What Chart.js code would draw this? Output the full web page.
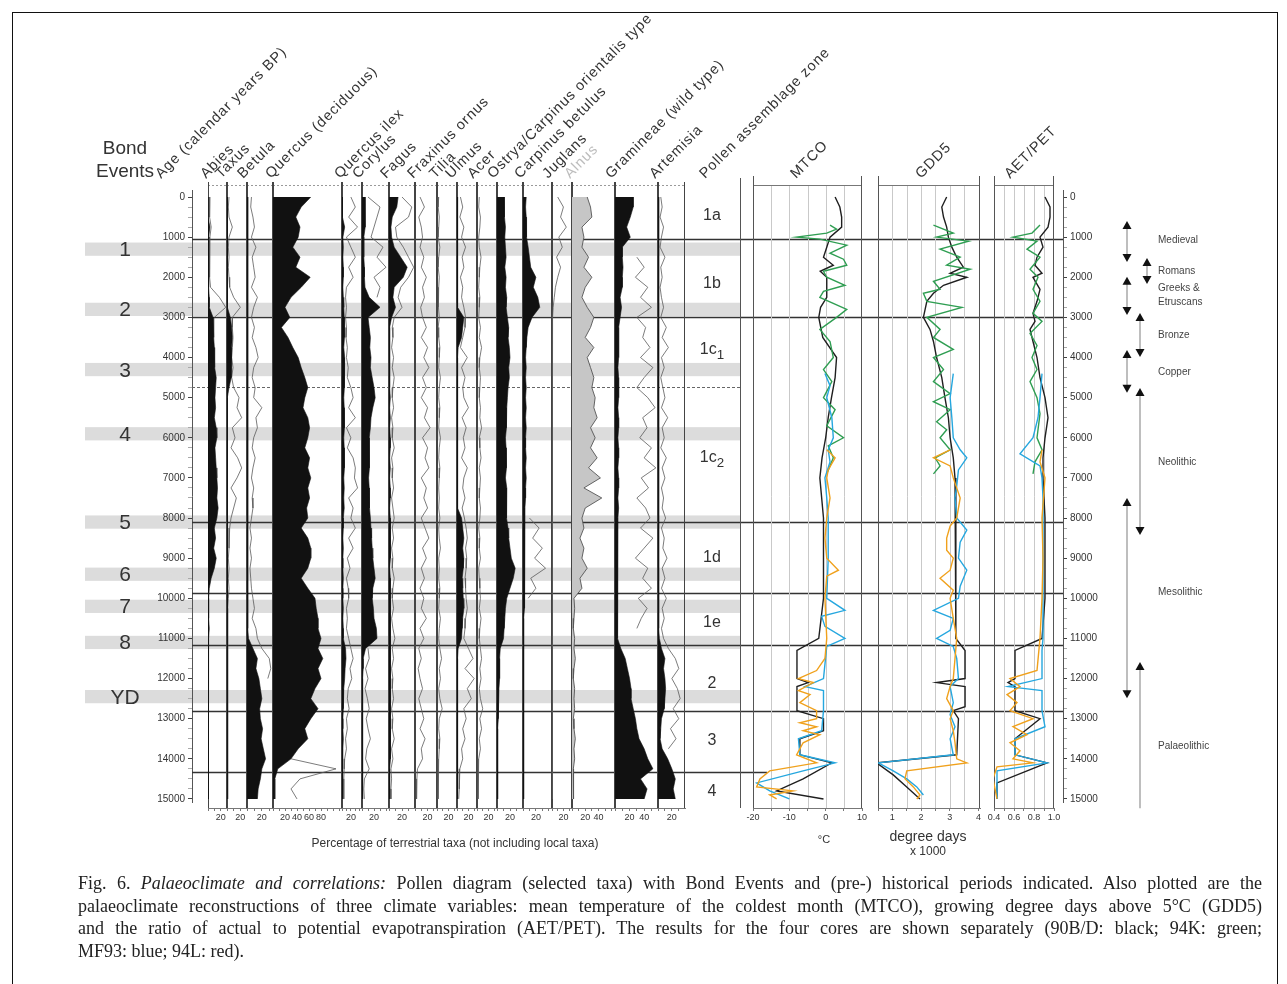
<!DOCTYPE html>
<html>
<head>
<meta charset="utf-8">
<title>Fig. 6 Palaeoclimate and correlations</title>
<script src="https://cdn.jsdelivr.net/npm/chart.js@4.4.1/dist/chart.umd.min.js"></script>
<style>
  body { margin: 0; background: #fff; width: 1287px; height: 984px; overflow: hidden; position: relative;
         font-family: "Liberation Sans", Arial, sans-serif; color: #333; }
  .abs { position: absolute; }
  .frame { position: absolute; left: 12px; top: 12px; width: 1264px; height: 990px; border: 1.5px solid #111; }
  .hdr { position: absolute; transform-origin: 0 100%; transform: rotate(-45deg); white-space: nowrap;
         font-size: 14.5px; letter-spacing: 0.9px; line-height: 15px; color: #333; }
  .lbl { position: absolute; transform: translate(-50%, -50%); white-space: nowrap; }
  .cap { position: absolute; left: 78px; width: 1184px; font-family: "Liberation Serif", "Times New Roman", serif;
         font-size: 18px; color: #222; white-space: nowrap; }
  .just { text-align: justify; text-align-last: justify; white-space: normal; }
</style>
</head>
<body>
<div class="frame"></div>
<script>
// ---------- data ----------
const N = null;

// sample ages (calendar years BP) of the pollen curves
const AGES = [0,250,500,750,1000,1250,1500,1750,2000,2250,
  2500,2750,3000,3250,3500,3750,4000,4250,4500,4750,
  5000,5250,5500,5750,6000,6250,6500,6750,7000,7250,
  7500,7750,8000,8250,8500,8750,9000,9250,9500,9750,
  10000,10250,10500,10750,11000,11250,11500,11750,12000,12250,
  12500,12750,13000,13250,13500,13750,14000,14250,14500,14750,
  15000];

const AGE_LABELS = [0,1000,2000,3000,4000,5000,6000,7000,8000,9000,10000,11000,12000,13000,14000,15000];

// pollen percentages (black silhouettes) and exaggerated curves (thin lines)
const ABIES = [0,0,0,3,1,1,1,1,1,1,
  2,2,8,9,9,10,10,11,13,12,
  11,12,10,13,14,11,12,13,14,15,
  14,16,14,10,12,9,13,10,5,2,
  1,1,1,2,1,1,0.5,1,0.5,0.5,
  0.5,1,0.5,0.5,0.5,0.5,1,0.5,0.5,0.5,
  1];
const ABIES_X = [3,2,3,5,3,2,3,2,3,4,
  18,28,10,N,N,N,N,N,N,N,
  N,N,N,N,N,N,N,N,N,N,
  N,N,N,N,N,N,N,N,N,N,
  N,N,N,N,N,N,N,N,N,N,
  N,N,N,N,N,N,N,N,N,N,
  N];
const TAXUS = [0.5,0.5,0.5,0.5,0.5,0.5,0.5,0.5,0.5,0.5,
  0.5,1,5,7,8,7,6,7,6,3,
  0.5,0.5,0.5,0.5,0.5,0.5,0.5,0.5,0.5,0.5,
  0.5,0.5,0.5,0.5,0.5,0.5,0.5,0.5,0.5,0.5,
  0.5,0.5,0.5,0.5,0.5,0.5,0.5,0.5,0.5,0.5,
  0.5,0.5,0.5,0.5,0.5,0.5,0.5,0.5,0.5,0.5,
  0.5];
const TAXUS_X = [3,2,3,8,3,2,3,2,3,4,
  10,20,8,8,9,8,7,9,7,10,
  18,15,22,8,12,6,16,22,15,6,
  14,10,6,4,3,3,2,3,2,3,
  2,1,1,1,1,1,1,1,1,1,
  1,1,1,1,1,1,1,1,1,1,
  1];
const BETULA = [1,1,1,1,1,1,1,1,1,1,
  1,1,1,1,1,1,1,1,1,1,
  1,1,1,1,1,1,1,1,1,1,
  1,1,1,1,1,1,1,1,1,1,
  1,1,1,1,2,8,14,12,16,18,
  20,17,18,21,19,22,25,20,18,15,
  14];
const BETULA_X = [6,5,8,10,6,12,7,9,11,6,
  14,9,6,10,7,12,15,9,7,11,
  9,20,12,14,9,7,11,8,6,9,
  7,8,6,4,6,4,6,4,5,6,
  8,10,7,12,14,20,30,32,28,N,
  N,N,N,N,N,N,N,N,N,N,
  N];
const QUERCUS = [63,47,38,45,42,33,45,38,62,47,
  30,20,28,14,25,33,42,47,53,58,
  53,50,58,61,58,53,61,58,63,58,
  61,56,58,47,58,63,63,58,47,58,
  70,72,75,75,80,75,83,75,80,70,
  63,75,63,53,58,42,30,8,3,3,
  3];
const QUERCUS_X = [N,N,N,N,N,N,N,N,N,N,
  N,N,N,N,N,N,N,N,N,N,
  N,N,N,N,N,N,N,N,N,N,
  N,N,N,N,N,N,N,N,N,N,
  N,N,N,N,N,N,N,N,N,N,
  N,N,N,N,N,N,30,105,45,30,
  40];
const QILEX = [1,1,1,6,2,3,2,3,3,2,
  3,4,5,6,5,4,6,5,6,5,
  4,5,6,5,4,5,6,5,4,5,
  4,5,3,3,2,3,2,2,3,2,
  2,3,2,3,3,8,9,7,6,4,
  3,3,2,2,3,2,2,1,1,1,
  1];
const QILEX_X = [20,30,15,35,10,20,30,15,25,10,
  8,10,8,10,9,12,10,14,12,20,
  25,15,30,10,20,12,25,30,28,35,
  15,25,20,30,15,25,12,18,10,14,
  15,10,12,10,15,20,25,18,22,14,
  12,16,10,12,8,10,6,5,4,4,
  4];
const CORYLUS = [5,5,5,6,3,3,3,4,4,5,
  12,30,10,12,14,13,15,14,17,20,
  22,18,15,14,12,12,13,12,11,12,
  12,13,14,15,16,17,18,20,22,18,
  17,19,20,24,25,6,2,2,1,1,
  1,1,1,1,1,1,1,1,1,1,
  1];
const CORYLUS_X = [10,30,25,20,15,35,25,40,20,30,
  25,N,N,N,N,N,N,N,N,N,
  N,N,N,N,N,N,N,N,N,N,
  N,N,N,N,N,N,N,N,N,N,
  N,N,N,N,N,10,12,6,10,5,
  9,12,7,10,14,8,6,12,4,3,
  4];
const FAGUS = [14,12,5,3,4,8,18,28,22,8,
  6,10,4,1,1,1,1,1,1,1,
  2,1,2,1,2,2,1,2,1,2,
  2,1,2,2,3,2,2,1,2,2,
  2,3,2,2,3,2,2,3,2,2,
  3,2,2,2,3,2,2,1,1,1,
  1];
const FAGUS_X = [20,35,30,10,12,22,30,38,30,18,
  14,20,8,5,6,4,7,5,8,6,
  5,7,4,6,5,8,4,6,5,7,
  4,6,8,5,7,4,6,5,8,6,
  5,7,4,6,9,5,7,4,6,5,
  7,4,6,5,8,4,6,3,4,3,
  3];
const FRAXINUS = [8,15,6,10,12,8,14,10,18,12,
  15,9,12,18,10,20,14,22,12,18,
  10,20,15,24,12,20,16,22,10,18,
  14,20,10,16,22,12,18,10,15,8,
  14,10,18,8,14,6,10,5,8,12,
  6,10,14,8,16,10,12,4,3,3,
  2];
const TILIA = [3,2,4,3,2,5,3,2,4,3,
  2,3,4,2,3,5,4,3,6,4,
  3,5,4,3,6,4,3,5,4,3,
  4,3,5,3,4,6,3,4,3,5,
  4,3,6,4,3,5,8,4,6,3,
  5,9,4,3,5,4,3,2,2,2,
  2];
const ULMUS = [1,1,1,1,1,1,1,1,1,1,
  1,1,12,10,8,2,1,1,1,1,
  1,1,1,1,1,1,1,1,1,1,
  1,1,8,10,12,10,12,11,9,10,
  11,12,10,9,8,2,1,1,1,1,
  1,1,1,1,1,1,1,1,1,1,
  1];
const ULMUS_X = [6,10,5,12,8,15,9,12,6,10,
  8,12,15,14,10,6,18,8,14,10,
  12,20,9,16,11,14,8,18,12,10,
  14,9,13,16,18,15,17,16,14,15,
  16,18,15,14,12,20,28,14,30,18,
  25,12,16,10,14,8,10,5,4,4,
  3];
const ACER = [4,3,6,5,3,4,7,5,4,3,
  5,4,3,6,4,8,5,4,6,5,
  4,6,5,8,4,5,7,4,6,5,
  4,6,5,3,5,4,6,3,4,5,
  6,4,7,5,4,6,8,5,7,4,
  6,10,5,8,4,6,3,2,2,2,
  2];
const OSTRYA = [11,12,11,13,12,13,14,12,14,13,
  15,14,16,18,17,19,20,18,19,17,
  16,15,14,15,13,14,15,14,13,15,
  14,15,15,17,18,20,22,28,25,20,
  15,13,12,11,10,5,4,4,4,3,
  2,2,2,1,1,1,1,1,1,1,
  1];
const CARPINUS = [5,4,5,6,5,8,10,12,20,16,
  23,26,14,8,6,5,4,5,4,5,
  4,5,4,5,4,4,5,4,5,4,
  4,3,3,2,3,2,3,2,2,3,
  2,2,1,1,1,1,1,1,1,1,
  1,1,1,1,1,1,1,1,1,1,
  1];
const CARPINUS_X = [N,N,N,N,N,N,N,N,N,N,
  N,N,N,N,N,N,N,N,N,N,
  N,N,N,N,N,N,N,N,N,N,
  N,N,10,25,15,30,18,35,12,20,
  8,N,N,N,N,N,N,N,N,N,
  N,N,N,N,N,N,N,N,N,N,
  N];
const JUGLANS = [10,20,15,25,12,18,8,15,10,6,
  4,2,1,0,0,0,0,0,0,0,
  0,0,0,0,0,0,0,0,0,0,
  0,0,0,0,0,0,0,0,0,0,
  0,0,0,0,0,0,0,0,0,0,
  0,0,0,0,0,0,0,0,0,0,
  0];
const ALNUS = [23,28,30,15,18,15,25,18,30,20,
  15,23,33,28,20,33,23,28,33,30,
  35,33,38,28,35,28,38,25,43,18,
  45,20,15,18,12,18,15,23,12,15,
  3,4,3,2,4,3,5,3,2,4,
  3,4,2,3,5,3,4,2,3,2,
  2];
const GRAMINEAE = [25,25,21,16,21,10,10,11,10,10,
  7,9,7,5,5,5,5,4,5,5,
  5,4,5,5,4,5,5,4,5,5,
  4,5,4,3,4,3,4,3,4,3,
  3,4,3,4,4,8,14,17,20,22,
  22,25,28,30,33,40,45,52,35,44,
  40];
const GRAMINEAE_X = [N,N,N,N,N,N,30,40,28,45,
  35,50,30,42,38,48,35,52,40,30,
  45,55,38,44,34,50,40,56,36,46,
  30,42,48,35,52,40,28,45,38,50,
  32,44,36,30,N,N,N,N,N,N,
  N,N,N,N,N,N,N,N,N,N,
  N];
const ARTEMISIA = [1,1,1,1,1,1,1,1,1,1,
  1,1,1,1,1,1,1,1,1,1,
  1,1,1,1,1,1,1,1,1,1,
  1,1,1,1,1,1,1,1,1,1,
  1,1,1,1,2,5,10,8,10,11,
  10,9,5,4,3,6,14,20,25,22,
  25];
const ARTEMISIA_X = [4,6,3,8,5,3,10,4,6,3,
  5,8,4,12,6,15,5,9,4,7,
  10,5,14,6,9,4,12,6,10,5,
  8,6,11,5,9,7,13,6,10,5,
  12,6,9,5,8,15,25,30,20,28,
  32,22,30,18,26,15,N,N,N,N,
  N];

// climate reconstructions, one age list per core
// MTCO (deg C)
const MTCO_AGE_90BD = [0,250,500,750,1000,1250,1500,1700,1850,2000,2250,2500,2750,3000,3500,4000,4500,5000,5500,6000,6500,7000,8000,9000,10000,11000,11300,12000,12100,12200,12800,13000,13300,13500,13900,14100,14500,14800,15000];
const MTCO_90BD = [2.6,3.9,4.4,4.4,1.2,0.3,-0.6,2.1,-1.5,0.3,0.3,0.3,-1.4,-1.9,-0.8,3.0,2.6,1.6,0.7,0,-1.0,-1.6,-0.6,-0.6,-0.6,-1.9,-7.9,-7.9,-4.8,-7.9,-7.9,-0.6,-0.6,-7.1,-7.1,1.7,-6.2,-13.5,-0.6];
const MTCO_AGE_94K = [700,800,900,1000,1050,1200,1400,1550,1700,1850,2000,2200,2350,2500,2800,3000,3300,3600,4000,4300,4600,5000,5300,5700,6000,6200,6500,6900];
const MTCO_94K = [1.2,3.0,0.3,-8.0,-1.6,5.8,1.2,4.9,5.8,-0.6,0.3,5.3,-0.6,-1.6,5.8,3.0,-1.6,1.2,2.1,-0.6,1.7,-0.6,2.6,0.3,4.9,0.7,2.1,0.3];
const MTCO_AGE_MF93 = [4400,4700,5000,5500,6000,6300,6600,7000,7500,8000,9000,10000,10300,10450,10700,11000,11200,12000,12200,12300,12800,13300,13500,13900,14100,14300,14600,14800,15000];
const MTCO_MF93 = [-0.2,1.2,0.3,1.7,2.1,0.7,1.2,-0.2,0.3,0.7,0.7,0.3,5.3,-1.1,-0.2,5.3,0.3,-0.6,-5.7,-0.6,-0.6,-1.1,-7.5,-7.1,2.6,-6.2,-19.0,-15.4,-10.0];
const MTCO_AGE_94L = [6300,6500,6800,7000,7500,8000,8500,9000,9300,9450,10000,11000,11500,11800,12000,12100,12300,12400,12600,12800,13000,13100,13200,13300,13400,13600,13900,14100,14300,14500,14700,14800,14900,15000];
const MTCO_94L = [0.3,2.6,0.7,0.3,1.2,0.3,-0.2,0.3,3.5,0.3,-0.2,0.3,-0.2,-2.5,-7.5,-3.4,-7.5,-4.3,-7.1,-2.5,-2.5,-7.1,-2.5,-6.2,-1.6,-6.2,-8.0,-2.5,-15.4,-18.1,-19.0,-9.0,-15.4,-13.5];

// GDD5 (degree days x 1000)
const GDD_AGE_90BD = [0,250,500,750,1000,1250,1500,1750,1900,2000,2200,2400,2600,2800,3000,3300,3600,4000,4500,5000,5500,6000,6500,7000,8000,9000,10000,11000,11300,12000,12100,12200,12700,12800,13000,13900,14100,14400,14700,15000];
const GDD_90BD = [2.89,2.72,2.78,2.89,2.95,3.07,3.24,3.47,3.01,3.59,2.78,2.43,2.20,2.14,2.08,2.31,2.43,2.54,2.72,2.83,2.95,3.01,3.12,3.18,3.21,3.21,3.21,3.21,3.53,3.53,2.54,3.53,3.53,3.12,3.30,3.24,0.45,1.03,1.50,1.96];
const GDD_AGE_94K = [700,900,1000,1100,1300,1500,1700,1800,2100,2300,2400,2600,2750,3000,3300,3500,3800,4000,4300,4600,4900,5100,5300,5600,5800,6000,6300,6500,6700,6900];
const GDD_94K = [2.43,3.12,2.54,3.65,2.66,3.36,2.89,3.71,2.43,2.66,2.08,2.20,3.42,2.20,2.66,2.43,3.12,2.43,2.78,2.43,3.01,2.43,3.01,2.54,2.89,2.66,3.01,2.49,2.66,2.43];
const GDD_AGE_MF93 = [4400,5000,5500,6000,6300,6500,6800,7200,7500,8000,8300,8600,9000,9300,9700,10000,10300,10500,10800,11000,11200,11500,12000,12200,12600,12900,13200,13500,13900,14100,14300,14500,14700,14900];
const GDD_MF93 = [3.12,3.01,3.07,3.12,3.36,3.59,3.30,3.24,3.18,3.24,3.59,3.36,3.30,3.59,3.36,3.30,2.43,3.12,3.01,2.54,3.12,3.24,3.30,3.01,3.12,3.01,3.18,3.01,3.12,0.51,1.03,1.50,1.85,2.08];
const GDD_AGE_94L = [6300,6500,6700,7000,7500,8000,8200,8500,8800,9000,9300,9500,9800,10000,10500,11000,11500,12000,12200,12500,12800,13000,13300,13600,14000,14100,14300,14500,14700,14900,15000];
const GDD_94L = [3.01,2.43,3.01,3.12,3.36,3.24,3.01,2.89,2.89,3.12,3.01,2.66,3.12,3.01,3.12,3.24,3.18,3.12,3.01,2.89,3.12,3.01,3.12,3.18,3.24,3.59,1.50,1.44,1.73,1.96,1.85];

// AET/PET (ratio)
const AET_AGE_90BD = [0,250,500,750,1000,1250,1500,1700,1900,2000,2300,2600,2900,3100,3300,3600,4000,4500,5000,5500,6000,6500,7000,8000,9000,10000,11000,11300,12000,12100,12200,12800,13000,13500,13900,14100,14600,15000];
const AET_90BD = [0.91,0.96,0.96,0.94,0.86,0.89,0.83,0.81,0.88,0.79,0.86,0.83,0.79,0.81,0.76,0.79,0.83,0.86,0.91,0.94,0.91,0.89,0.89,0.91,0.91,0.91,0.88,0.61,0.61,0.54,0.61,0.61,0.86,0.61,0.61,0.93,0.43,0.43];
const AET_AGE_94K = [700,900,1000,1100,1300,1500,1800,2000,2300,2600,2900,3100,3400,3700,4000,4300,4600,5000,5400,5800,6000,6300,6600,6900];
const AET_94K = [0.86,0.78,0.59,0.83,0.73,0.86,0.76,0.84,0.79,0.86,0.79,0.88,0.76,0.83,0.78,0.83,0.76,0.83,0.86,0.84,0.83,0.88,0.81,0.79];
const AET_AGE_MF93 = [4400,5000,5500,6000,6400,6700,7000,7500,8000,9000,10000,11000,11300,12000,12200,12300,12800,13200,13500,13900,14100,14300,14600,15000];
const AET_MF93 = [0.88,0.86,0.84,0.79,0.66,0.86,0.88,0.89,0.89,0.89,0.89,0.89,0.88,0.88,0.54,0.88,0.88,0.91,0.61,0.61,0.93,0.43,0.43,0.43];
const AET_AGE_94L = [6300,6600,7000,8000,9000,10000,11000,11800,12000,12200,12400,12600,12800,13000,13200,13400,13600,13800,14000,14100,14200,14500,15000];
const AET_94L = [0.88,0.86,0.91,0.88,0.89,0.88,0.86,0.83,0.56,0.66,0.53,0.63,0.56,0.79,0.59,0.73,0.56,0.66,0.59,0.79,0.43,0.39,0.43];

// Bond events, pollen zones, historical periods
const BOND_NAMES = ['1','2','3','4','5','6','7','8','YD'];
const BOND_AGES = [1300,2800,4300,5900,8100,9400,10200,11100,12450];
const ZONE_BOUNDS = [1050,3000,8100,9870,11160,12800,14330];
const ZONE_SUB_BOUND = 4740;
const ZONE_NAMES = ['1a','1b','1c<sub>1</sub>','1c<sub>2</sub>','1d','1e','2','3','4'];
const ZONE_LABEL_AGES = [450,2143,3838,6529,8971,10590,12110,13531,14802];
const PERIOD_NAMES = ['Medieval','Romans','Greeks &amp;<br>Etruscans','Bronze','Copper','Neolithic','Mesolithic','Palaeolithic'];
const PERIOD_FROM = [600,1520,1990,2890,3810,4760,7500,11590];
const PERIOD_TO = [1620,2170,2940,3990,4880,8420,12490,15230];
const PERIOD_LABEL_AGES = [1071,1844,2442,3439,4361,6604,9843,13680];

// ---------- layout ----------
const FONT = '"Liberation Sans", Arial, sans-serif';
const KY = 40.13;          // pixels per 1000 years
const Y0 = 197;            // pixel row of age 0
const ageAt = px => (px - Y0) / KY * 1000;
const yOf = age => Y0 + age * KY / 1000;
const PANEL_TOP = 176, PANEL_BOTTOM = 808, AXIS_H = 24, SIDE = 14;
const Y_MIN = ageAt(PANEL_TOP), Y_MAX = ageAt(PANEL_BOTTOM);
const CORE_COLORS = ['#1f1f1f', '#2f9e52', '#25a7df', '#f0a11c'];

const POLLEN = [
  { left: 208, right: 227, max: 30, labels: [20], fill: ABIES, line: ABIES_X },
  { left: 227, right: 247, max: 30, labels: [20], fill: TAXUS, line: TAXUS_X },
  { left: 247, right: 273, max: 35, labels: [20], fill: BETULA, line: BETULA_X },
  { left: 273, right: 342, max: 115, labels: [20, 40, 60, 80], fill: QUERCUS, line: QUERCUS_X },
  { left: 342, right: 362, max: 45, labels: [20], fill: QILEX, line: QILEX_X },
  { left: 362, right: 389, max: 45, labels: [20], fill: CORYLUS, line: CORYLUS_X },
  { left: 389, right: 415, max: 40, labels: [20], fill: FAGUS, line: FAGUS_X },
  { left: 415, right: 437, max: 35, labels: [20], fill: null, line: FRAXINUS },
  { left: 437, right: 457, max: 35, labels: [20], fill: null, line: TILIA },
  { left: 457, right: 477, max: 35, labels: [20], fill: ULMUS, line: ULMUS_X },
  { left: 477, right: 497, max: 35, labels: [20], fill: null, line: ACER },
  { left: 497, right: 523, max: 40, labels: [20], fill: OSTRYA, line: null },
  { left: 523, right: 552, max: 45, labels: [20], fill: CARPINUS, line: CARPINUS_X },
  { left: 552, right: 572, max: 35, labels: [20], fill: null, line: JUGLANS },
  { left: 572, right: 615, max: 65, labels: [20, 40], fill: ALNUS, line: null, grey: true },
  { left: 615, right: 658, max: 59, labels: [20, 40], fill: GRAMINEAE, line: GRAMINEAE_X },
  { left: 658, right: 685, max: 39, labels: [20], fill: ARTEMISIA, line: ARTEMISIA_X }
];

const HEADER_TEXT = ['Age (calendar years BP)','Abies','Taxus','Betula','Quercus (deciduous)','Quercus ilex','Corylus','Fagus',
  'Fraxinus ornus','Tilia','Ulmus','Acer','Ostrya/Carpinus orientalis type','Carpinus betulus','Juglans','Alnus',
  'Gramineae (wild type)','Artemisia','Pollen assemblage zone','MTCO','GDD5','AET/PET'];
const HEADER_X = [163,208,223,245,273,342,360,388,415,437,453,475,495,522,550,572,613,657,707,798,923,1012];

// ---------- helpers ----------
function addCanvas(left, top, w, h) {
  const d = document.createElement('div');
  d.className = 'abs';
  d.style.cssText = `left:${left}px;top:${top}px;width:${w}px;height:${h}px`;
  const c = document.createElement('canvas');
  c.width = w; c.height = h;
  c.style.width = w + 'px'; c.style.height = h + 'px';
  d.appendChild(c);
  document.body.appendChild(d);
  return c;
}

function addText(html, x, y, css, centered = true) {
  const d = document.createElement('div');
  d.className = centered ? 'lbl' : 'abs';
  d.innerHTML = html;
  d.style.cssText += `left:${x}px;top:${y}px;` + (css || '');
  document.body.appendChild(d);
  return d;
}

const pts = (ages, vals) => ages.map((a, i) => ({ x: vals[i], y: a }));

// panel frame: side lines, header line, optional grid
const framePlugin = {
  id: 'frame',
  beforeDatasetsDraw(chart, args, o) {
    const { ctx, chartArea: a, scales: { x, y } } = chart;
    const top = y.getPixelForValue(o.from);
    const head = Math.round(y.getPixelForValue(o.head)) + 0.5;
    ctx.save();
    ctx.lineWidth = 1;
    if (o.grid) {
      ctx.strokeStyle = o.gridColor;
      x.ticks.forEach(t => {
        const px = Math.round(x.getPixelForValue(t.value)) + 0.5;
        if (px > a.left + 2 && px < a.right - 2) {
          ctx.beginPath(); ctx.moveTo(px, head); ctx.lineTo(px, a.bottom); ctx.stroke();
        }
      });
    }
    ctx.strokeStyle = o.headColor;
    ctx.setLineDash(o.headDash || []);
    ctx.beginPath(); ctx.moveTo(a.left, head); ctx.lineTo(a.right, head); ctx.stroke();
    ctx.setLineDash([]);
    ctx.strokeStyle = o.color;
    const l = Math.round(a.left) + 0.5, r = Math.round(a.right) - 0.5;
    ctx.beginPath();
    ctx.moveTo(l, top); ctx.lineTo(l, a.bottom);
    ctx.moveTo(r, top); ctx.lineTo(r, a.bottom);
    ctx.stroke();
    ctx.restore();
  }
};

function panelChart(left, right, xMin, xMax, step, labels, fmt, datasets, frame) {
  const w = right - left;
  const c = addCanvas(left - SIDE, PANEL_TOP, w + 2 * SIDE, PANEL_BOTTOM - PANEL_TOP + AXIS_H);
  return new Chart(c, {
    type: 'line',
    data: { datasets },
    options: {
      animation: false, responsive: false, indexAxis: 'y', devicePixelRatio: 1,
      layout: { padding: { left: SIDE, right: SIDE, top: 0, bottom: 0 } },
      elements: { point: { radius: 0 }, line: { tension: 0 } },
      plugins: { legend: { display: false }, tooltip: { enabled: false }, frame },
      scales: {
        y: { type: 'linear', reverse: true, min: Y_MIN, max: Y_MAX, display: false },
        x: {
          type: 'linear', min: xMin, max: xMax, position: 'bottom',
          afterBuildTicks: s => {
            const t = [];
            for (let i = 0; xMin + i * step <= xMax + 1e-9; i++) t.push({ value: +(xMin + i * step).toFixed(3) });
            s.ticks = t;
          },
          afterFit: s => { s.height = AXIS_H; },
          ticks: {
            autoSkip: false, maxRotation: 0, padding: 1, color: '#333',
            font: { size: 9, family: FONT },
            callback: v => labels.includes(+(+v).toFixed(3)) ? fmt(v) : ''
          },
          grid: { drawOnChartArea: false, tickLength: 3, color: '#777' },
          border: { color: '#777' }
        }
      }
    },
    plugins: [framePlugin]
  });
}

// ---------- base chart: age axes, Bond bands, zone lines, periods ----------
const BASE_TOP = 190, BASE_BOTTOM = 802;
const basePlugin = {
  id: 'base',
  beforeDraw(chart) {
    const { ctx, scales: { y } } = chart;
    ctx.save();
    ctx.fillStyle = '#dcdcdc';
    BOND_AGES.forEach(a => {
      const y1 = y.getPixelForValue(a - 165), y2 = y.getPixelForValue(a + 165);
      ctx.fillRect(85, y1, 740 - 85, y2 - y1);
    });
    ctx.restore();
  },
  afterDraw(chart) {
    const { ctx, scales: { y } } = chart;
    ctx.save();
    // zone boundaries
    ctx.strokeStyle = '#333'; ctx.lineWidth = 1.3;
    ZONE_BOUNDS.forEach((a, i) => {
      const py = Math.round(y.getPixelForValue(a)) + 0.5;
      ctx.beginPath(); ctx.moveTo(192, py); ctx.lineTo(i === ZONE_BOUNDS.length - 1 ? 767 : 1063, py); ctx.stroke();
    });
    ctx.strokeStyle = '#666'; ctx.lineWidth = 1; ctx.setLineDash([3, 2]);
    const sy = Math.round(y.getPixelForValue(ZONE_SUB_BOUND)) + 0.5;
    ctx.beginPath(); ctx.moveTo(192, sy); ctx.lineTo(740, sy); ctx.stroke();
    ctx.setLineDash([]);
    // zone column edge
    ctx.strokeStyle = '#555';
    ctx.beginPath(); ctx.moveTo(740.5, 178); ctx.lineTo(740.5, 808); ctx.stroke();
    // historical periods
    const cols = [1127, 1147, 1127, 1140, 1127, 1140, 1127, 1140];
    PERIOD_FROM.forEach((a, i) => {
      const x = cols[i], y1 = y.getPixelForValue(a), y2 = y.getPixelForValue(PERIOD_TO[i]);
      const open = i === PERIOD_FROM.length - 1;
      ctx.strokeStyle = '#a8a8a8'; ctx.lineWidth = 1.5;
      ctx.beginPath(); ctx.moveTo(x, y1 + 4); ctx.lineTo(x, open ? y2 : y2 - 4); ctx.stroke();
      ctx.fillStyle = '#111';
      ctx.beginPath(); ctx.moveTo(x, y1); ctx.lineTo(x - 4.5, y1 + 8); ctx.lineTo(x + 4.5, y1 + 8); ctx.closePath(); ctx.fill();
      if (!open) {
        ctx.beginPath(); ctx.moveTo(x, y2); ctx.lineTo(x - 4.5, y2 - 8); ctx.lineTo(x + 4.5, y2 - 8); ctx.closePath(); ctx.fill();
      }
    });
    ctx.restore();
  }
};

const minorTicks = [];
for (let v = 0; v <= 15000; v += 250) minorTicks.push({ value: v });
const ageAxis = (pos, width) => ({
  type: 'linear', position: pos, reverse: true, min: ageAt(BASE_TOP), max: ageAt(BASE_BOTTOM),
  afterBuildTicks: s => { s.ticks = minorTicks.map(t => ({ value: t.value })); },
  afterFit: s => { s.width = width; },
  ticks: {
    autoSkip: false, padding: 3, color: '#333', font: { size: 10, family: FONT },
    callback: v => AGE_LABELS.includes(v) ? String(v) : ''
  },
  grid: {
    drawOnChartArea: false, tickLength: 4,
    tickColor: c => (c.tick && AGE_LABELS.includes(c.tick.value)) ? '#444' : '#aaa'
  },
  border: { color: '#555' }
});

const baseCanvas = addCanvas(0, 0, 1287, 984);
new Chart(baseCanvas, {
  type: 'scatter',
  data: { datasets: [{ data: [] }] },
  options: {
    animation: false, responsive: false, devicePixelRatio: 1,
    layout: { padding: { left: 150, right: 164, top: BASE_TOP, bottom: 984 - BASE_BOTTOM } },
    plugins: { legend: { display: false }, tooltip: { enabled: false } },
    scales: {
      x: { display: false, min: 0, max: 1 },
      y: ageAxis('left', 42),
      y2: ageAxis('right', 60)
    }
  },
  plugins: [basePlugin]
});

// ---------- pollen panels ----------
const pollenFrame = { from: ageAt(182), head: ageAt(185), headColor: '#9a9a9a', headDash: [2, 2], color: '#444', grid: false };
POLLEN.forEach(p => {
  const ds = [];
  if (p.fill) ds.push({
    data: pts(AGES, p.fill), borderColor: p.grey ? '#555' : '#111', borderWidth: p.grey ? 0.9 : 0.6,
    backgroundColor: p.grey ? '#c6c6c6' : '#111', fill: 'origin'
  });
  if (p.line) ds.push({ data: pts(AGES, p.line), borderColor: '#5a5a5a', borderWidth: 0.8, fill: false });
  panelChart(p.left, p.right, 0, p.max, 10, p.labels, v => String(v), ds, pollenFrame);
});

// ---------- climate panels ----------
const climFrame = { from: Y_MIN, head: ageAt(185), headColor: '#777', headDash: [], color: '#555', grid: true, gridColor: '#c9c9c9' };
const climSets = (ages, vals) => ages.map((a, i) => ({
  data: pts(a, vals[i]), borderColor: CORE_COLORS[i], borderWidth: 1.4, fill: false
}));

panelChart(753, 862, -20, 10, 5, [-20, -10, 0, 10], v => String(v),
  climSets([MTCO_AGE_90BD, MTCO_AGE_94K, MTCO_AGE_MF93, MTCO_AGE_94L], [MTCO_90BD, MTCO_94K, MTCO_MF93, MTCO_94L]).reverse(), climFrame);
panelChart(878, 980, 0.5, 4.05, 0.5, [1, 2, 3, 4], v => String(v),
  climSets([GDD_AGE_90BD, GDD_AGE_94K, GDD_AGE_MF93, GDD_AGE_94L], [GDD_90BD, GDD_94K, GDD_MF93, GDD_94L]).reverse(), climFrame);
panelChart(994, 1054, 0.4, 1.0, 0.1, [0.4, 0.6, 0.8, 1.0], v => (+v).toFixed(1),
  climSets([AET_AGE_90BD, AET_AGE_94K, AET_AGE_MF93, AET_AGE_94L], [AET_90BD, AET_94K, AET_MF93, AET_94L]).reverse(), climFrame);

// ---------- text ----------
HEADER_TEXT.forEach((t, i) => {
  const d = document.createElement('div');
  d.className = 'hdr';
  d.textContent = t;
  d.style.left = HEADER_X[i] + 'px';
  d.style.top = (181 - 15) + 'px';
  if (t === 'Alnus') d.style.color = '#bdbdbd';
  document.body.appendChild(d);
});

addText('Bond', 125, 148, 'font-size:19px;color:#333;');
addText('Events', 125, 171, 'font-size:19px;color:#333;');
BOND_NAMES.forEach((n, i) => addText(n, 125, yOf(BOND_AGES[i]), 'font-size:21px;color:#333;'));
ZONE_NAMES.forEach((n, i) => addText(n, 712, yOf(ZONE_LABEL_AGES[i]), 'font-size:16px;color:#333;'));
PERIOD_NAMES.forEach((n, i) => addText(n, 1158, yOf(PERIOD_LABEL_AGES[i]) - (n.includes('<br>') ? 14 : 7),
  'font-size:10px;line-height:14px;color:#444;', false));

addText('Percentage of terrestrial taxa (not including local taxa)', 455, 843, 'font-size:12px;color:#333;');
addText('°C', 824, 839, 'font-size:11px;color:#333;');
addText('degree days', 928, 836, 'font-size:14px;color:#333;');
addText('x 1000', 928, 851, 'font-size:12px;color:#333;');

const CAPTION = [
  'Fig. 6. <i>Palaeoclimate and correlations:</i> Pollen diagram (selected taxa) with Bond Events and (pre-) historical periods indicated. Also plotted are the',
  'palaeoclimate reconstructions of three climate variables: mean temperature of the coldest month (MTCO), growing degree days above 5°C (GDD5)',
  'and the ratio of actual to potential evapotranspiration (AET/PET). The results for the four cores are shown separately (90B/D: black; 94K: green;',
  'MF93: blue; 94L: red).'
];
CAPTION.forEach((t, i) => {
  const d = document.createElement('div');
  d.className = 'cap' + (i < 3 ? ' just' : '');
  d.innerHTML = t;
  d.style.top = (873 + i * 22.5) + 'px';
  document.body.appendChild(d);
});
</script>
</body>
</html>
